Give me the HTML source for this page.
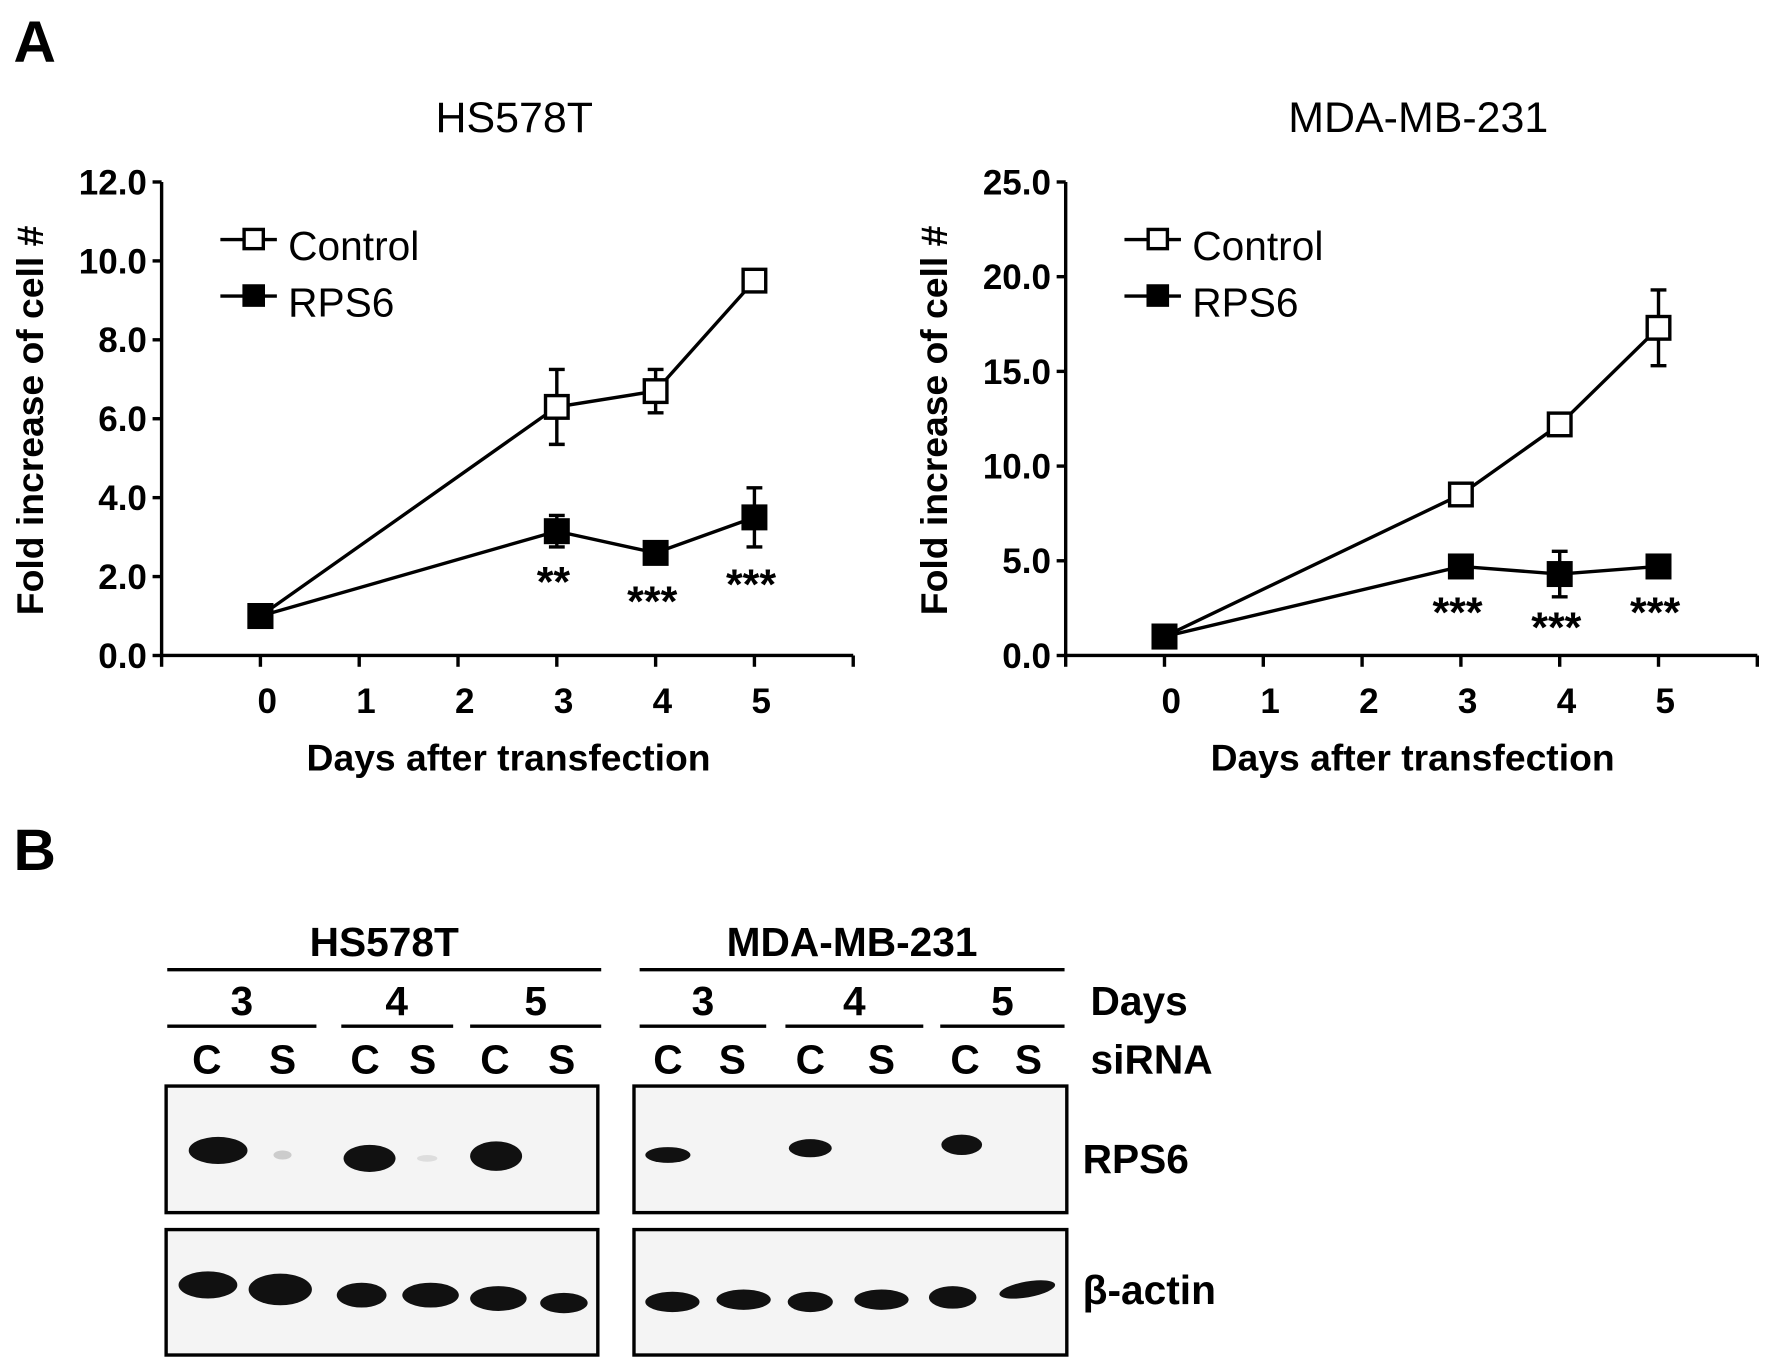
<!DOCTYPE html>
<html><head><meta charset="utf-8"><style>
html,body{margin:0;padding:0;background:#fff}
svg{display:block;font-family:"Liberation Sans",Arial,sans-serif}
</style></head><body>
<svg id="fig" width="1772" height="1372" viewBox="0 0 1568 1214" xmlns="http://www.w3.org/2000/svg">
<text x="12" y="55" font-size="52" font-weight="bold">A</text>
<text x="12" y="770" font-size="52" font-weight="bold">B</text>
<g id="chartL"></g>
<g id="chartR"></g>
<g id="blot" font-weight="bold" font-size="36">
 <text x="340" y="846" text-anchor="middle">HS578T</text>
 <text x="754" y="846" text-anchor="middle">MDA-MB-231</text>
 <g stroke="#000" stroke-width="3">
  <line x1="148" y1="858" x2="532" y2="858"/><line x1="566" y1="858" x2="942" y2="858"/>
  <line x1="148" y1="908" x2="280" y2="908"/><line x1="302" y1="908" x2="401" y2="908"/><line x1="416" y1="908" x2="532" y2="908"/>
  <line x1="566" y1="908" x2="678" y2="908"/><line x1="695" y1="908" x2="817" y2="908"/><line x1="832" y1="908" x2="942" y2="908"/>
 </g>
 <g text-anchor="middle">
  <text x="214" y="898">3</text><text x="351" y="898">4</text><text x="474" y="898">5</text>
  <text x="622" y="898">3</text><text x="756" y="898">4</text><text x="887" y="898">5</text>
 </g>
 <text x="965" y="898">Days</text>
 <g text-anchor="middle">
  <text x="183" y="950">C</text><text x="250" y="950">S</text><text x="323" y="950">C</text><text x="374" y="950">S</text><text x="438" y="950">C</text><text x="497" y="950">S</text>
  <text x="591" y="950">C</text><text x="648" y="950">S</text><text x="717" y="950">C</text><text x="780" y="950">S</text><text x="854" y="950">C</text><text x="910" y="950">S</text>
 </g>
 <text x="965" y="950">siRNA</text>
 <g fill="#f4f4f4" stroke="#000" stroke-width="3">
  <rect x="147" y="961" width="382" height="112"/><rect x="561" y="961" width="383" height="112"/>
  <rect x="147" y="1088" width="382" height="111"/><rect x="561" y="1088" width="383" height="111"/>
 </g>
 <g fill="#111">
  <ellipse cx="193" cy="1018" rx="26" ry="12"/><ellipse cx="250" cy="1022" rx="8" ry="4" fill="#ccc"/>
  <ellipse cx="327" cy="1025" rx="23" ry="12"/><ellipse cx="378" cy="1025" rx="9" ry="3" fill="#ddd"/>
  <ellipse cx="439" cy="1023" rx="23" ry="13"/>
  <ellipse cx="591" cy="1022" rx="20" ry="7"/><ellipse cx="717" cy="1016" rx="19" ry="8"/><ellipse cx="851" cy="1013" rx="18" ry="9"/>
 </g>
 <g fill="#111">
  <ellipse cx="184" cy="1137" rx="26" ry="12"/><ellipse cx="248" cy="1141" rx="28" ry="14"/>
  <ellipse cx="320" cy="1146" rx="22" ry="11"/><ellipse cx="381" cy="1146" rx="25" ry="11"/>
  <ellipse cx="441" cy="1149" rx="25" ry="11"/><ellipse cx="499" cy="1153" rx="21" ry="9"/>
  <ellipse cx="595" cy="1152" rx="24" ry="9"/><ellipse cx="658" cy="1150" rx="24" ry="9"/>
  <ellipse cx="717" cy="1152" rx="20" ry="9"/><ellipse cx="780" cy="1150" rx="24" ry="9"/>
  <ellipse cx="843" cy="1148" rx="21" ry="10"/><ellipse cx="909" cy="1141" rx="25" ry="7" transform="rotate(-10 909 1141)"/>
 </g>
 <text x="958" y="1038">RPS6</text>
 <text x="958" y="1154">β-actin</text>
</g>
<script>
var NS="http://www.w3.org/2000/svg";
var days=[0,3,4,5];
var xTicks=[-1,0,1,2,3,4,5,6];
var xTickLabels=[0,1,2,3,4,5];
var hsControl=[1.0,6.3,6.7,9.5];
var hsControlErr=[0,0.95,0.55,0];
var hsRps6=[1.0,3.15,2.6,3.5];
var hsRps6Err=[0,0.4,0,0.75];
var hsStars=["","**","***","***"];
var hsYTicks=[0,2,4,6,8,10,12];
var mdaControl=[1.0,8.5,12.2,17.3];
var mdaControlErr=[0,0,0,2.0];
var mdaRps6=[1.0,4.7,4.3,4.7];
var mdaRps6Err=[0,0,1.2,0];
var mdaStars=["","***","***","***"];
var mdaYTicks=[0,5,10,15,20,25];
function el(p,tag,a,txt){var e=document.createElementNS(NS,tag);for(var k in a)e.setAttribute(k,a[k]);if(txt!==undefined)e.textContent=txt;p.appendChild(e);return e;}
function chart(id,ox,title,yTicks,ymax,ctl,ctlErr,rps,rpsErr,stars,starOff){
 var g=document.getElementById(id);
 var x0=ox,x1=ox+612,yTop=161,yBot=580;
 function X(d){return x0+(d+1)*(x1-x0)/7;}
 function Y(v){return yBot-v*(yBot-yTop)/ymax;}
 var t=el(g,'text',{x:ox+312,y:117,'font-size':38,'text-anchor':'middle'},title);
 
 
 var ax=el(g,'path',{d:'M'+x0+' '+yTop+' V'+yBot+' H'+x1,stroke:'#000','stroke-width':3,fill:'none'});
 
 
 yTicks.forEach(function(v){
  el(g,'line',{x1:x0-8,x2:x0,y1:Y(v),y2:Y(v),stroke:'#000','stroke-width':3});
  var l=el(g,'text',{x:x0-13,y:Y(v)+11,'font-size':31,'font-weight':'bold','text-anchor':'end'},v.toFixed(1));
  
  
 });
 xTicks.forEach(function(d){el(g,'line',{x1:X(d),x2:X(d),y1:yBot,y2:yBot+10,stroke:'#000','stroke-width':3});});
 xTickLabels.forEach(function(d){
  var l=el(g,'text',{x:X(d)+6,y:631,'font-size':31,'font-weight':'bold','text-anchor':'middle'},d);
  
  
 });
 var xt=el(g,'text',{x:ox+307,y:682,'font-size':33,'font-weight':'bold','text-anchor':'middle'},'Days after transfection');
 
 
 var yt=el(g,'text',{x:0,y:0,'font-size':33,'font-weight':'bold','text-anchor':'middle',transform:'translate('+(ox-105)+' 372) rotate(-90)'},'Fold increase of cell #');
 
 
 function series(vals,errs,filled,name){
  var d=vals.map(function(v,i){return (i?'L':'M')+X(days[i])+' '+Y(v);}).join(' ');
  var p=el(g,'path',{d:d,stroke:'#000','stroke-width':3,fill:'none'});
  
  
  vals.forEach(function(v,i){
   if(errs[i]>0){var cx=X(days[i]);
    el(g,'path',{d:'M'+cx+' '+Y(v+errs[i])+' V'+Y(v-errs[i])+' M'+(cx-7)+' '+Y(v+errs[i])+' h14 M'+(cx-7)+' '+Y(v-errs[i])+' h14',stroke:'#000','stroke-width':3,fill:'none'});}
   var m=el(g,'rect',{x:X(days[i])-10,y:Y(v)-10,width:20,height:20,fill:filled?'#000':'#fff',stroke:'#000','stroke-width':3});
   
   
  });
 }
 series(ctl,ctlErr,false,'control');
 series(rps,rpsErr,true,'rps6');
 stars.forEach(function(s,i){if(!s)return;
  var st=el(g,'text',{x:X(days[i])-3,y:starOff[i],'font-size':38,'font-weight':'bold','text-anchor':'middle'},s);
  
  
 });
 var lg=el(g,'g',{});
 
 
 el(lg,'line',{x1:ox+52,x2:ox+102,y1:212,y2:212,stroke:'#000','stroke-width':3});
 el(lg,'rect',{x:ox+73,y:203,width:17,height:17,fill:'#fff',stroke:'#000','stroke-width':3});
 el(lg,'text',{x:ox+112,y:230,'font-size':36},'Control');
 el(lg,'line',{x1:ox+52,x2:ox+102,y1:262,y2:262,stroke:'#000','stroke-width':3});
 el(lg,'rect',{x:ox+73,y:253,width:17,height:17,fill:'#000',stroke:'#000','stroke-width':3});
 el(lg,'text',{x:ox+112,y:280,'font-size':36},'RPS6');
}
chart('chartL',143,'HS578T',hsYTicks,12,hsControl,hsControlErr,hsRps6,hsRps6Err,hsStars,[0,528,545,530]);
chart('chartR',943,'MDA-MB-231',mdaYTicks,25,mdaControl,mdaControlErr,mdaRps6,mdaRps6Err,mdaStars,[0,555,568,555]);
</script>
</svg>
</body></html>
